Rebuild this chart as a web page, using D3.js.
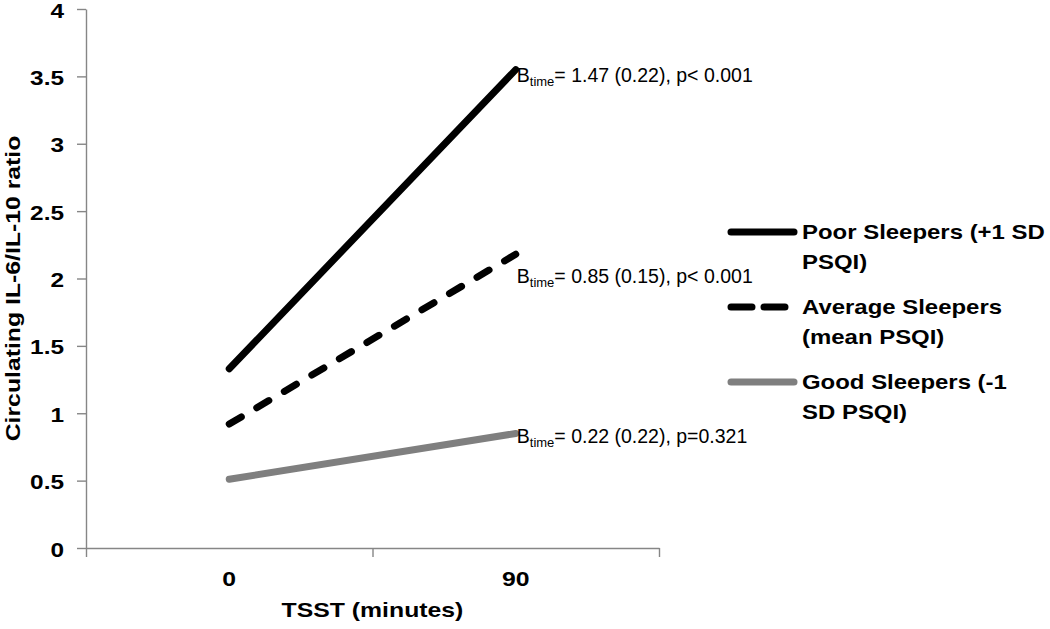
<!DOCTYPE html>
<html>
<head>
<meta charset="utf-8">
<script src="https://cdn.jsdelivr.net/npm/d3@7/dist/d3.min.js"></script>
<style>
  html, body { margin: 0; padding: 0; background: #fff; }
  svg { display: block; font-family: "Liberation Sans", Arial, sans-serif; }
</style>
</head>
<body>
<svg id="chart" width="1050" height="629"></svg>
<script>
// ---- data ----
const categories = ["0", "90"];
const yTicks = [0, 0.5, 1, 1.5, 2, 2.5, 3, 3.5, 4];
const seriesNames = ["Poor Sleepers (+1 SD PSQI)", "Average Sleepers (mean PSQI)", "Good Sleepers (-1 SD PSQI)"];
const poorValues = [1.33, 3.55];
const averageValues = [0.92, 2.18];
const goodValues = [0.51, 0.85];
const annotationB = ["1.47 (0.22), p< 0.001", "0.85 (0.15), p< 0.001", "0.22 (0.22), p=0.321"];
const legendLines = [["Poor Sleepers (+1 SD", "PSQI)"], ["Average Sleepers", "(mean PSQI)"], ["Good Sleepers (-1", "SD PSQI)"]];

// layout / style (not data)
const annotationOffset = [12, 29, 10];
const series = [
  { name: seriesNames[0], values: poorValues, color: "#000", dash: null, legendDash: null, label: annotationB[0] },
  { name: seriesNames[1], values: averageValues, color: "#000", dash: "14,18", legendDash: "21,12", label: annotationB[1] },
  { name: seriesNames[2], values: goodValues, color: "#7f7f7f", dash: null, legendDash: null, label: annotationB[2] }
];

const svg = d3.select("#chart");
const axisColor = "#868686";
const plot = { left: 86, right: 659, top: 9, bottom: 548 };

const x = d3.scaleBand().domain(categories).range([plot.left, plot.right]).padding(0);
const xEdge = d3.scaleLinear().domain([0, categories.length]).range([plot.left, plot.right]);
const y = d3.scaleLinear().domain([0, 4]).range([plot.bottom, plot.top]);

function stretch(sel, k) {
  sel.each(function () {
    const w = this.getComputedTextLength();
    d3.select(this).attr("textLength", w * k).attr("lengthAdjust", "spacingAndGlyphs");
  });
}
const K = 1.18;

// y axis
const yAxis = svg.append("g").attr("transform", `translate(${plot.left},0)`)
  .call(d3.axisLeft(y).tickValues(yTicks).tickSize(9).tickSizeOuter(0).tickPadding(13).tickFormat(d => String(d)));
yAxis.select(".domain").attr("stroke", axisColor).attr("stroke-width", 1.4);
yAxis.selectAll(".tick line").attr("stroke", axisColor).attr("stroke-width", 1.4);
yAxis.selectAll(".tick text").attr("font-size", 20).attr("font-weight", "bold").attr("fill", "#000")
  .attr("font-family", "Liberation Sans, Arial, sans-serif").attr("dy", "0.4em").call(stretch, 1.22);

// x axis (ticks at category boundaries)
const xAxis = svg.append("g").attr("transform", `translate(0,${plot.bottom})`)
  .call(d3.axisBottom(xEdge).tickValues(d3.range(categories.length + 1)).tickSize(9).tickSizeOuter(0).tickFormat(""));
xAxis.select(".domain").attr("stroke", axisColor).attr("stroke-width", 1.4);
xAxis.selectAll(".tick line").attr("stroke", axisColor).attr("stroke-width", 1.4);

const xLab = svg.append("g").attr("transform", `translate(0,${plot.bottom})`)
  .call(d3.axisBottom(x).tickSize(0).tickPadding(31));
xLab.select(".domain").remove();
xLab.selectAll(".tick text").attr("font-size", 21).attr("font-weight", "bold").attr("fill", "#000")
  .attr("font-family", "Liberation Sans, Arial, sans-serif").attr("dy", "0.35em").call(stretch, K);

// axis titles
svg.append("text").attr("x", (plot.left + plot.right) / 2).attr("y", 617)
  .attr("text-anchor", "middle").attr("font-size", 21).attr("font-weight", "bold")
  .text("TSST (minutes)").call(stretch, K);
svg.append("text").attr("transform", `translate(20,${(plot.top + plot.bottom) / 2 + 10}) rotate(-90)`)
  .attr("text-anchor", "middle").attr("font-size", 21).attr("font-weight", "bold")
  .text("Circulating IL-6/IL-10 ratio").call(stretch, K);

// lines
const line = d3.line().x((d, i) => x(categories[i]) + x.bandwidth() / 2).y(d => y(d));
series.forEach(s => {
  svg.append("path").datum(s.values).attr("d", line)
    .attr("fill", "none").attr("stroke", s.color).attr("stroke-width", 7)
    .attr("stroke-linecap", "round").attr("stroke-dasharray", s.dash);
});

// annotations at line ends
series.forEach((s, i) => {
  const last = s.values.length - 1;
  const ax = x(categories[last]) + x.bandwidth() / 2 + 1;
  const ay = y(s.values[last]) + annotationOffset[i];
  const t = svg.append("text").attr("x", ax).attr("y", ay).attr("font-size", 19.5).attr("fill", "#000");
  t.append("tspan").text("B");
  t.append("tspan").attr("font-size", 13).attr("dy", 4).text("time");
  t.append("tspan").attr("dy", -4).text("= " + s.label);
});

// legend
const legendY = [232, 307, 382];
series.forEach((s, i) => {
  svg.append("line").attr("x1", 731).attr("x2", 794).attr("y1", legendY[i]).attr("y2", legendY[i])
    .attr("stroke", s.color).attr("stroke-width", 7).attr("stroke-linecap", "round")
    .attr("stroke-dasharray", s.legendDash);
  legendLines[i].forEach((ln, j) => {
    svg.append("text").attr("x", 802).attr("y", legendY[i] + 7 + j * 30)
      .attr("font-size", 21).attr("font-weight", "bold").text(ln).call(stretch, 1.14);
  });
});
</script>
</body>
</html>
